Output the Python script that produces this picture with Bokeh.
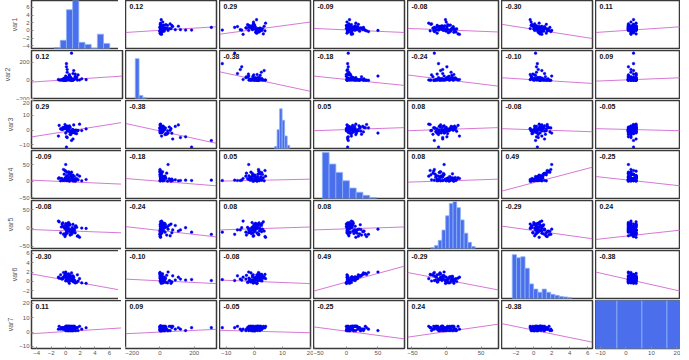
from bokeh.plotting import figure
from bokeh.layouts import gridplot
from bokeh.models import Range1d, FixedTicker, Label
from bokeh.embed import file_html
from bokeh.resources import INLINE

names = ["var1", "var2", "var3", "var4", "var5", "var6", "var7"]

# observations (read/estimated from the scatter panels)
var1 = [0.3, 0.9, -0.4, 1.2, 0.6, -0.7, 1.5, 0.0, 0.4, 1.0, -0.2, 0.7, 1.3, 0.2, -0.5,
        0.8, 1.7, -0.1, 0.5, 1.1, 0.3, -0.3, 0.9, 0.1, 1.4, 0.6, -0.6, 0.2, 1.0, 0.4,
        2.8, -0.9, 0.7, 1.2, -0.2, 0.5, 0.9, 0.0, 1.6, 0.3, 0.8, -0.4, 1.3, 0.1, 0.6,
        2.2, -0.1, 0.4, 1.0, 0.2, 0.1, 0.1, 0.8, 1.1, 0.2, 1.0, 0.0, -1.0, 1.9, 0.5]
var2 = [5, 12, 3, 20, 8, 2, 35, 1, 15, 6, 25, 4, 45, 10, 7,
        2, 60, 18, 3, 9, 28, 1, 14, 5, 22, 40, 6, 11, 2, 16,
        8, 4, 30, 12, 2, 55, 7, 19, 3, 26, 1, 13, 70, 5, 9,
        17, 2, 33, 6, 120, 150, 185, 300, 108, 90, 75, 48, 10, 4, 65]
var3 = [1.2, -1.5, 0.5, -0.3, 2.0, 0.9, -2.4, 1.6, -0.8, 0.2, 1.9, -1.1, -0.5, 2.6, 0.7,
        -1.9, -0.2, 1.0, 2.9, -1.4, 0.4, 1.5, -0.9, 2.3, 0.1, -2.8, 0.6, -0.6, -0.1, 1.8,
        0.8, 3.2, -3.0, -1.7, 1.3, 2.1, 0.3, 2.7, -0.4, 0.5, -1.2, 1.7, -2.1, 1.1, -0.7,
        -0.3, 3.8, 1.4, 0.0, -5.0, -4.5, -11.4, -7.0, 3.5, 2.5, -6.0, -2.0, -4.0, 4.0, 1.0]
var4 = [6, 10, 3, 14, 22, 1, 8, 30, 5, 18, 2, 12, 0, 26, 7,
        16, 4, 9, 20, 3, 11, 35, 6, 13, 2, 24, 8, 17, 1, 28,
        5, 10, 15, 4, 21, 7, 12, 3, 19, 9, 27, 2, 6, 14, 23,
        1, 32, 10, 5, 2, 3, 2, 3, 1, 4, 2, 50, 8, 15, 0]
var5 = [-1, -9, 5, -6, 9, -13, 2, -18, 15, -4, 0, -15, 4, -10, 11,
        -7, -21, 7, -3, -12, 13, -17, 1, -5, 6, -19, 3, -14, 10, -8,
        -1, 17, -11, -2, -16, 8, -6, 12, -22, 2, -9, 14, -13, 5, -4,
        0, -23, 9, -10, -5, 1, -11, -17, -8, 7, -5, -3, 19, -25, 11]
var6 = [0.1, 0.4, 0.8, 0.2, 1.1, 1.4, -0.2, 1.7, 0.0, 0.6, 0.9, 0.3, -0.3, 1.5, 0.5,
        0.7, 0.1, 1.0, 1.2, -0.1, 0.4, 1.9, 0.2, 0.8, -0.2, 1.3, 0.6, 0.9, 0.0, 1.6,
        -0.4, 0.7, 0.5, 0.3, 1.1, 0.2, 0.8, 0.1, 1.4, 0.4, 1.8, 0.6, -0.1, 1.0, 1.2,
        -0.3, 1.5, 0.7, 0.4, 0.5, 0.3, 0.4, 0.2, 0.9, 0.3, 1.2, 2.0, 0.9, 0.6, -0.4]
var7 = [1, 2, 3, 4, 1, 2, 3, 4, 1, 2, 3, 4, 1, 2, 3,
        4, 1, 2, 3, 4, 1, 2, 3, 4, 1, 2, 3, 4, 1, 2,
        3, 4, 1, 2, 3, 4, 1, 2, 3, 4, 1, 2, 3, 4, 1,
        2, 3, 4, 1, 2, 1, 3, 3, 3, 2, 4, 1, 2, 4, 4]
data = [var1, var2, var3, var4, var5, var6, var7]

# axis limits and tick labels of each variable
x_limits = [(-4.7, 7.8), (-200, 330), (-12.4, 20), (-52, 92), (-55.5, 75), (-3.6, 6.55), (-11.9, 21.4)]
y_limits = [(-4.7, 7.8), (-200, 330), (-12.4, 20), (-52, 92), (-55.5, 75), (-3.6, 6.55), (-11.5, 22)]
ticks = [[-4, -2, 0, 2, 4, 6, 8], [-200, 0, 200], [-10, 0, 10, 20], [-50, 0, 50],
         [-50, 0, 50], [-2, 0, 2, 4, 6], [-10, 0, 10, 20]]

# correlation coefficients shown in each panel
corr = [
    ["", "0.12", "0.29", "-0.09", "-0.08", "-0.30", "0.11"],
    ["0.12", "", "-0.38", "-0.18", "-0.24", "-0.10", "0.09"],
    ["0.29", "-0.38", "", "0.05", "0.08", "-0.08", "-0.05"],
    ["-0.09", "-0.18", "0.05", "", "0.08", "0.49", "-0.25"],
    ["-0.08", "-0.24", "0.08", "0.08", "", "-0.29", "0.24"],
    ["-0.30", "-0.10", "-0.08", "0.49", "-0.29", "", "-0.38"],
    ["0.11", "0.09", "-0.05", "-0.25", "0.24", "-0.38", ""],
]

# least-squares line: y value at left and right x-limit of each panel
fit_left = [
    [0, -0.53, -0.98, 0.53, 0.53, 1.6, -0.53],
    [-19, 0, 95, 48, 60, 29, -8],
    [-4.6, 4.5, 0, -0.4, -0.4, 1.0, 1.0],
    [3, 8, 0, 0, -3, -30, 14],
    [-4, 4, -5, -5, 0, 5.5, -31],
    [1.6, 0.5, 0.3, -2.05, 1.9, 0, 2.0],
    [-1.2, -1.2, 1.2, 3.6, -3.6, 5.9, 0],
]
fit_right = [
    [0, 0.96, 2.2, -0.53, -0.4, -2.1, 0.96],
    [48, 0, -121, -56, -64, -34, 29],
    [5.2, -8.9, 0, 1.7, 1.7, -1.1, -0.4],
    [-9, -14, 6, 0, 6, 42, -14],
    [-13, -24, 3, 3, 0, -29, -5.5],
    [-1.9, -0.45, -0.45, 3.25, -1.8, 0, -2.05],
    [2.9, 1.9, -0.5, -4.8, 5.5, -7.1, 0],
]

# diagonal histograms: bin edges (in column units) and bar heights
hist_edges = [
    [-1.6, -0.75, 0.1, 0.95, 1.8, 2.65, 3.5, 4.35, 5.2, 6.05],
    [-143, -121, -99, -77],
    [7.2, 8.1, 9.0, 9.9, 10.8, 11.7, 12.6],
    [-38, -27.3, -16.6, -5.9, 4.8, 15.5, 26.2, 36.9, 47.6],
    [-22, -16.7, -11.4, -6.1, -0.8, 4.5, 9.8, 15.1, 20.4, 25.7, 31.0, 36.3, 41.6],
    [-2.4, -1.924, -1.448, -0.972, -0.496, -0.02, 0.456, 0.932, 1.408, 1.884, 2.36, 2.836, 3.312, 3.788, 4.264],
    [-13.3, -3.5, 6.3, 16.1, 25.9],
]
hist_counts = [
    [1, 8, 38, 47, 6, 4, 0, 14, 5],
    [39, 3, 1],
    [2, 18, 38, 27, 12, 3],
    [44, 33, 25, 17, 10, 6, 3, 1],
    [1, 3, 8, 18, 32, 44, 46, 40, 28, 15, 6, 2],
    [42, 39, 40, 29, 14, 9, 6, 9, 6, 4, 3, 2, 1.5, 1],
    [15, 15, 15, 15],
]
hist_top = [47, 47, 46, 46, 47, 46, 15]

TICK_COLOR = "#555555"


def style_axis(ax, tick_values):
    ax.ticker = FixedTicker(ticks=tick_values)
    ax.major_label_text_font = "Liberation Sans"
    ax.major_label_text_font_size = "6px"
    ax.major_label_text_color = TICK_COLOR
    ax.major_label_standoff = 2
    ax.major_tick_in = 2
    ax.major_tick_out = 0
    ax.major_tick_line_color = "#888888"
    ax.minor_tick_line_color = None
    ax.axis_line_color = None


rows = []
n = len(names)
for i in range(n):
    row = []
    for j in range(n):
        p = figure(
            frame_width=85 if j == n - 1 else 91,
            frame_height=48,
            x_range=Range1d(*x_limits[j]),
            y_range=Range1d(*y_limits[i]),
            output_backend="svg",
            toolbar_location=None,
            x_axis_location="below" if i == n - 1 else None,
            y_axis_location="left" if j == 0 else None,
            min_border_left=24 if j == 0 else 0,
            min_border_right=0 if j == n - 1 else 3,
            min_border_top=0,
            min_border_bottom=10 if i == n - 1 else 2,
            background_fill_color="white",
            border_fill_color="white",
        )
        p.grid.visible = False
        p.outline_line_color = "#3a3a3a"
        p.outline_line_width = 1.5
        if i == n - 1:
            style_axis(p.xaxis[0], ticks[j])
        if j == 0:
            style_axis(p.yaxis[0], ticks[i])
            p.yaxis[0].axis_label = names[i]
            p.yaxis[0].axis_label_text_font = "Liberation Sans"
            p.yaxis[0].axis_label_text_font_size = "7px"
            p.yaxis[0].axis_label_text_font_style = "normal"
            p.yaxis[0].axis_label_text_color = TICK_COLOR
            p.yaxis[0].axis_label_standoff = 2

        if i == j:
            p.extra_y_ranges = {"hist": Range1d(0, hist_top[i])}
            e = hist_edges[i]
            p.quad(left=e[:-1], right=e[1:], bottom=0, top=hist_counts[i],
                   y_range_name="hist", fill_color="#4A6EEC", line_color="#8DB2F6",
                   line_width=0.8)
        else:
            x0, x1 = x_limits[j]
            p.line([x0, x1], [fit_left[i][j], fit_right[i][j]],
                   line_color="#CC55CC", line_width=0.8)
            p.scatter(data[j], data[i], size=2.7, fill_color="#0000F0",
                      line_color="#0000F0", line_width=0.4)
            p.add_layout(Label(x=x0, y=y_limits[i][1], x_offset=4, y_offset=-3,
                               text=corr[i][j], text_baseline="top",
                               text_font="Liberation Sans", text_font_style="bold",
                               text_font_size="7px", text_color="#111111"))
        row.append(p)
    rows.append(row)

grid = gridplot(rows, toolbar_location=None)
open("out.html", "w").write(file_html(grid, INLINE, title="corrplot"))
